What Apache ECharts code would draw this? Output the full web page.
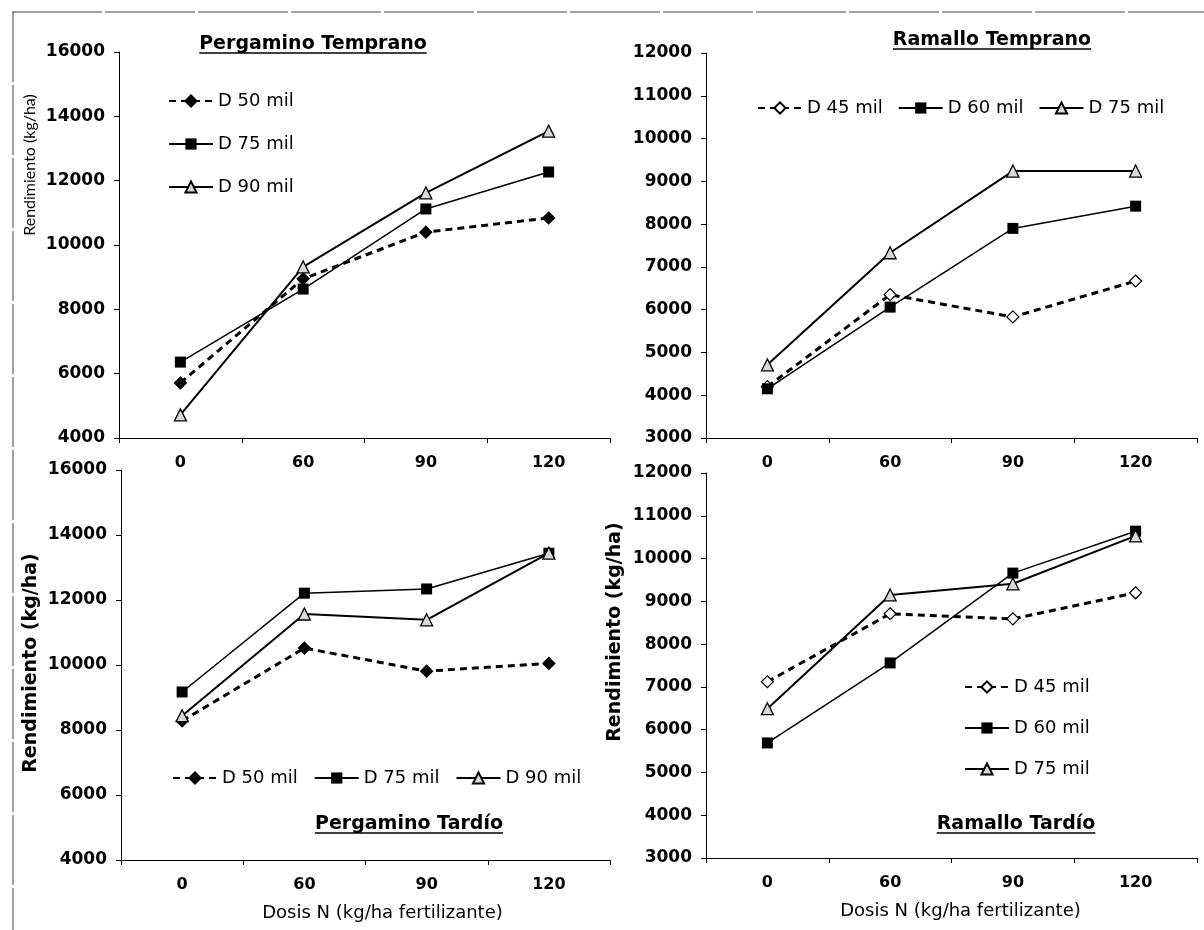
<!DOCTYPE html>
<html>
<head>
<meta charset="utf-8">
<title>Rendimiento segun dosis de N</title>
<script src="https://cdn.jsdelivr.net/npm/echarts@6/dist/echarts.min.js"></script>
<style>
  html, body { margin: 0; padding: 0; background: #fff; }
  #chart { width: 1204px; height: 930px; }
</style>
</head>
<body>
<div id="chart"></div>
<script>
// categories (kg N / ha)
var dosis = ['0', '60', '90', '120'];

// Pergamino Temprano
var pergTempD50 = [5710, 8950, 10400, 10840];
var pergTempD75 = [6360, 8630, 11120, 12270];
var pergTempD90 = [4720, 9320, 11620, 13540];

// Ramallo Temprano
var ramTempD45 = [4200, 6350, 5830, 6670];
var ramTempD60 = [4150, 6060, 7900, 8420];
var ramTempD75 = [4710, 7330, 9240, 9240];

// Pergamino Tardio
var pergTardD50 = [8280, 10520, 9810, 10050];
var pergTardD75 = [9170, 12210, 12340, 13440];
var pergTardD90 = [8440, 11570, 11390, 13440];

// Ramallo Tardio
var ramTardD45 = [7120, 8710, 8590, 9200];
var ramTardD60 = [5690, 7560, 9660, 10640];
var ramTardD75 = [6490, 9150, 9410, 10530];

var pergTicks = { min: 4000, max: 16000, interval: 2000 };
var ramTicks = { min: 3000, max: 12000, interval: 1000 };

var titles = ['Pergamino Temprano', 'Ramallo Temprano', 'Pergamino Tardío', 'Ramallo Tardío'];
var yName = 'Rendimiento (kg/ha)';
var xName = 'Dosis N (kg/ha fertilizante)';

// the Ramallo "D 75 mil" uses a no-break space so its legend keeps the triangle
var nPerg = ['D 50 mil', 'D 75 mil', 'D 90 mil'];
var nRam = ['D 45 mil', 'D 60 mil', 'D 75\u00a0mil'];

var FONT = '"DejaVu Sans", Verdana, sans-serif';
var chart = echarts.init(document.getElementById('chart'), null, { renderer: 'canvas' });

var grids = [
  { left: 119, top: 52, width: 491, height: 386 },
  { left: 706, top: 53, width: 491, height: 385 },
  { left: 121, top: 470, width: 489, height: 390 },
  { left: 706, top: 473, width: 491, height: 385 }
];

function xAxis(i, withName) {
  var ax = {
    type: 'category', gridIndex: i, data: dosis, boundaryGap: true,
    axisLine: { lineStyle: { color: '#000', width: 1 } },
    axisTick: { show: true, length: 5, inside: false, lineStyle: { color: '#000' } },
    axisLabel: { color: '#000', fontFamily: FONT, fontSize: 16, fontWeight: 'bold', margin: 17 },
    splitLine: { show: false }
  };
  if (withName) {
    ax.name = xName;
    ax.nameLocation = 'middle';
    ax.nameGap = 44;
    ax.nameTextStyle = { color: '#000', fontFamily: FONT, fontSize: 18, padding: [0, 0, 0, i === 2 ? 34 : 18] };
  }
  return ax;
}

function yAxis(i, t) {
  return {
    type: 'value', gridIndex: i, min: t.min, max: t.max, interval: t.interval,
    axisLine: { show: true, lineStyle: { color: '#000', width: 1 } },
    axisTick: { show: true, length: 5, lineStyle: { color: '#000' } },
    axisLabel: {
      color: '#000', fontFamily: FONT, fontSize: 17, fontWeight: 'bold', margin: 14,
      formatter: function (v) { return String(v); }
    },
    splitLine: { show: false }
  };
}

function diamond(name, data, i, fill) {
  return {
    name: name, type: 'line', xAxisIndex: i, yAxisIndex: i, data: data,
    symbol: 'diamond', symbolSize: 12, showAllSymbol: true,
    lineStyle: { color: '#000', width: 3, type: [7, 5] },
    itemStyle: { color: fill, borderColor: '#000', borderWidth: 1.2 },
    z: 2
  };
}
function square(name, data, i) {
  return {
    name: name, type: 'line', xAxisIndex: i, yAxisIndex: i, data: data,
    symbol: 'rect', symbolSize: 11,
    lineStyle: { color: '#000', width: 1.5, type: 'solid' },
    itemStyle: { color: '#000', borderColor: '#000', borderWidth: 0 },
    z: 3
  };
}
function triangle(name, data, i) {
  return {
    name: name, type: 'line', xAxisIndex: i, yAxisIndex: i, data: data,
    symbol: 'triangle', symbolSize: 12,
    lineStyle: { color: '#000', width: 2, type: 'solid' },
    itemStyle: { color: '#d8d8d8', borderColor: '#000', borderWidth: 1.3 },
    z: 4
  };
}

function legend(names, left, top, orient, gap) {
  return {
    data: names, left: left, top: top, orient: orient, itemGap: gap,
    itemWidth: 44, itemHeight: 14, selectedMode: false, padding: 0,
    textStyle: { color: '#000', fontFamily: FONT, fontSize: 18 }
  };
}

// measure title widths for the underline
var ctx = document.createElement('canvas').getContext('2d');
var TFONT = 'bold 19px "DejaVu Sans"';
ctx.font = TFONT;
var titlePos = [[313, 44], [992, 40], [409, 824], [1016, 824]];
var graphics = [
  { type: 'line', shape: { x1: 12, y1: 12, x2: 1204, y2: 12 }, style: { stroke: '#444', lineWidth: 1, lineDash: [90, 3] }, silent: true },
  { type: 'line', shape: { x1: 13, y1: 12, x2: 13, y2: 930 }, style: { stroke: '#444', lineWidth: 1, lineDash: [70, 3] }, silent: true }
];
titles.forEach(function (t, k) {
  var w = ctx.measureText(t).width;
  var p = titlePos[k];
  graphics.push({ type: 'text', x: p[0], y: p[1], style: { text: t, font: TFONT, fill: '#000', align: 'center', verticalAlign: 'middle' } });
  graphics.push({ type: 'line', shape: { x1: p[0] - w / 2, y1: p[1] + 9, x2: p[0] + w / 2, y2: p[1] + 9 }, style: { stroke: '#000', lineWidth: 1.5 } });
});
// y-axis names
graphics.push({ type: 'text', x: 30, y: 165, rotation: Math.PI / 2, style: { text: yName, font: '16px Lato', fill: '#000', align: 'center', verticalAlign: 'middle' } });
graphics.push({ type: 'text', x: 31, y: 663, rotation: Math.PI / 2, style: { text: yName, font: 'bold 19px "DejaVu Sans"', fill: '#000', align: 'center', verticalAlign: 'middle' } });
graphics.push({ type: 'text', x: 615, y: 632, rotation: Math.PI / 2, style: { text: yName, font: 'bold 19px "DejaVu Sans"', fill: '#000', align: 'center', verticalAlign: 'middle' } });

var option = {
  backgroundColor: '#fff',
  animation: false,
  grid: grids,
  xAxis: [xAxis(0, false), xAxis(1, false), xAxis(2, true), xAxis(3, true)],
  yAxis: [yAxis(0, pergTicks), yAxis(1, ramTicks), yAxis(2, pergTicks), yAxis(3, ramTicks)],
  legend: [
    legend(nPerg, 168, 92, 'vertical', 25),
    legend(nRam, 757, 99, 'horizontal', 15),
    legend(nPerg, 172, 769, 'horizontal', 16),
    legend(nRam, 964, 678, 'vertical', 23)
  ],
  graphic: graphics,
  series: [
    diamond(nPerg[0], pergTempD50, 0, '#000'),
    square(nPerg[1], pergTempD75, 0),
    triangle(nPerg[2], pergTempD90, 0),

    diamond(nRam[0], ramTempD45, 1, '#fff'),
    square(nRam[1], ramTempD60, 1),
    triangle(nRam[2], ramTempD75, 1),

    diamond(nPerg[0], pergTardD50, 2, '#000'),
    square(nPerg[1], pergTardD75, 2),
    triangle(nPerg[2], pergTardD90, 2),

    diamond(nRam[0], ramTardD45, 3, '#fff'),
    square(nRam[1], ramTardD60, 3),
    triangle(nRam[2], ramTardD75, 3)
  ]
};
chart.setOption(option);
</script>
</body>
</html>
